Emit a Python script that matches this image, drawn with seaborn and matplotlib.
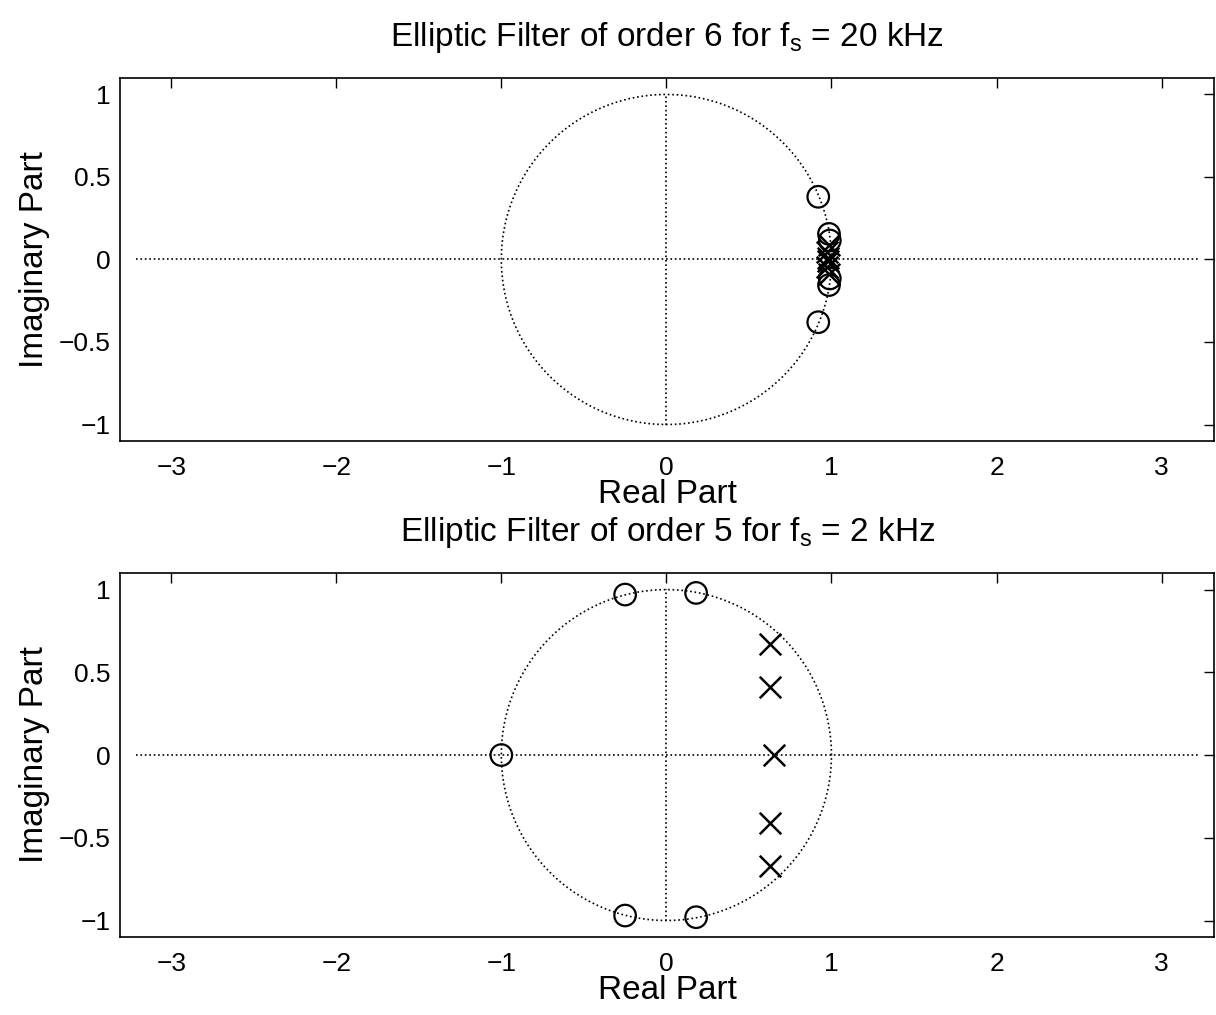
import numpy as np
import pandas as pd
import seaborn as sns
import matplotlib.pyplot as plt

sns.set_style("white")
plt.rcParams["font.family"] = ["Liberation Sans", "DejaVu Sans"]
plt.rcParams["mathtext.fontset"] = "custom"
plt.rcParams["mathtext.rm"] = "Liberation Sans"
plt.rcParams["mathtext.it"] = "Liberation Sans"
plt.rcParams["text.color"] = "black"
plt.rcParams["axes.labelcolor"] = "black"

# order 6, fs = 20 kHz
zeros6_re = [0.92, 0.92, 0.985, 0.985, 0.99, 0.99]
zeros6_im = [0.38, -0.38, 0.155, -0.155, 0.115, -0.115]
poles6_re = [0.985, 0.985, 0.975, 0.975, 0.98, 0.98]
poles6_im = [0.085, -0.085, 0.045, -0.045, 0.012, -0.012]

# order 5, fs = 2 kHz
zeros5_re = [-1.0, -0.25, -0.25, 0.18, 0.18]
zeros5_im = [0.0, 0.97, -0.97, 0.98, -0.98]
poles5_re = [0.63, 0.63, 0.65, 0.63, 0.63]
poles5_im = [0.67, 0.41, 0.0, -0.41, -0.67]

titles = [r"Elliptic Filter of order 6 for f$_\mathregular{s}$ = 20 kHz",
          r"Elliptic Filter of order 5 for f$_\mathregular{s}$ = 2 kHz"]
xticks = [-3, -2, -1, 0, 1, 2, 3]
yticks = [-1, -0.5, 0, 0.5, 1]
ytick_labels = ["\u22121", "\u22120.5", "0", "0.5", "1"]

fig = plt.figure(figsize=(12.16, 10.15), dpi=100)
ax1 = fig.add_axes([0.0987, 0.5655, 0.900, 0.3577])
ax2 = fig.add_axes([0.0987, 0.0768, 0.900, 0.3586])

theta = np.linspace(0, 2 * np.pi, 200)
circle = pd.DataFrame({"re": np.cos(theta), "im": np.sin(theta)})

sets = [(ax1, zeros6_re, zeros6_im, poles6_re, poles6_im, titles[0]),
        (ax2, zeros5_re, zeros5_im, poles5_re, poles5_im, titles[1])]

for ax, zr, zi, pr, pi, title in sets:
    ax.plot(circle["re"], circle["im"], color="black", linestyle=":", linewidth=1.2)
    ax.axhline(0, xmin=0.015, xmax=0.985, color="black", linestyle=":", linewidth=1.2)
    ax.axvline(0, ymin=0.045, ymax=0.955, color="black", linestyle=":", linewidth=1.2)

    zdf = pd.DataFrame({"re": zr, "im": zi})
    pdf = pd.DataFrame({"re": pr, "im": pi})
    sns.scatterplot(data=zdf, x="re", y="im", ax=ax, marker="o", s=240,
                    facecolor="none", edgecolor="black", linewidth=1.6)
    sns.scatterplot(data=pdf, x="re", y="im", ax=ax, marker="x", s=240,
                    color="black", linewidth=1.8)

    ax.set_xlim(-3.31, 3.32)
    ax.set_ylim(-1.1, 1.1)
    ax.set_xticks(xticks)
    ax.set_xticklabels([str(t).replace("-", "\u2212") for t in xticks])
    ax.set_yticks(yticks)
    ax.set_yticklabels(ytick_labels)
    ax.tick_params(direction="in", length=7, width=1, top=True, right=True,
                   labelsize=19, colors="black")
    ax.tick_params(axis="x", pad=11)
    ax.tick_params(axis="y", pad=7)
    for sp in ax.spines.values():
        sp.set_visible(True)
        sp.set_color("black")
        sp.set_linewidth(1.2)
    ax.set_xlabel("Real Part", fontsize=24, labelpad=-1)
    ax.set_ylabel("Imaginary Part", fontsize=24, labelpad=6)
    ax.set_title(title, fontsize=24, pad=23, color="black")

fig.savefig("out.png", dpi=100)
